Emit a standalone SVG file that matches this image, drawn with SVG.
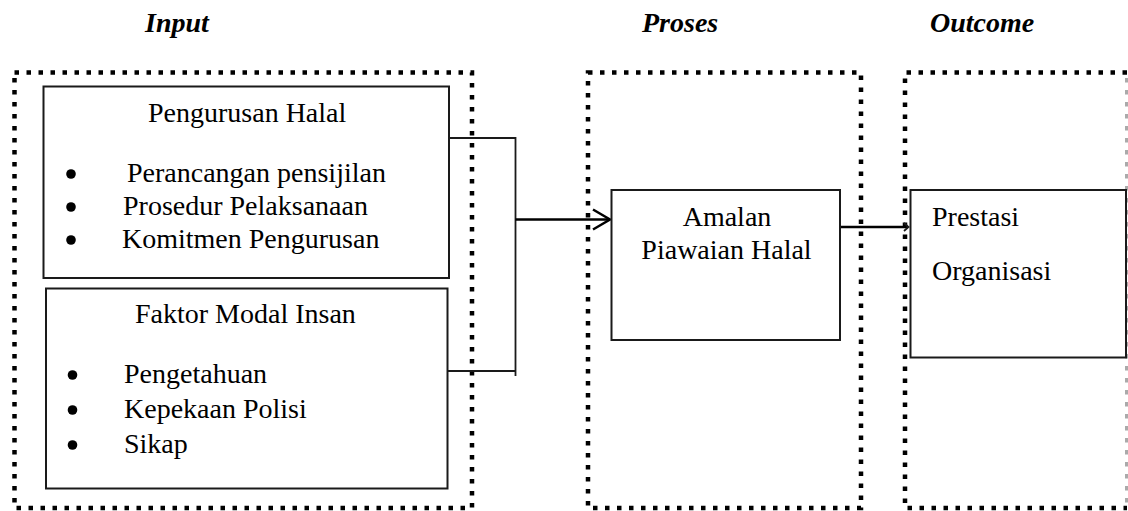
<svg xmlns="http://www.w3.org/2000/svg" width="1128" height="511" viewBox="0 0 1128 511">
<style>
.title{font-family:"Liberation Serif","Times New Roman",serif;font-weight:bold;font-style:italic;font-size:28px;fill:#000}
.t{font-family:"Liberation Serif","Times New Roman",serif;font-size:28px;fill:#000}
.dot{fill:none;stroke:#000;stroke-width:4.5;stroke-dasharray:4.5 7.5}
.dotfaint{fill:none;stroke:#aaa;stroke-width:3;stroke-dasharray:4.5 7.5}
.box{fill:#fff;stroke:#1a1a1a;stroke-width:2}
.conn{fill:none;stroke:#1a1a1a;stroke-width:1.8}
.arrow{fill:none;stroke:#000;stroke-width:2.5}
</style>
<rect width="1128" height="511" fill="#fff"/>
<g id="titles">
<text class="title" x="145" y="32">Input</text>
<text class="title" x="642" y="32">Proses</text>
<text class="title" x="930" y="32">Outcome</text>
</g>
<g id="group-input">
<rect class="dot" x="14.5" y="72.5" width="457.5" height="435.5"/>
</g>
<g id="group-proses">
<rect class="dot" x="588" y="72.5" width="273" height="435.5"/>
</g>
<g id="group-outcome">
<polyline class="dot" points="1127,72.5 905,72.5 905,508 1127,508"/>
<line class="dotfaint" x1="1126.5" y1="78" x2="1126.5" y2="508"/>
</g>
<g id="connectors">
<polyline class="conn" points="443,138 515.5,138 515.5,376"/>
<line class="conn" x1="448" y1="371" x2="515.5" y2="371"/>
<line class="arrow" x1="515.5" y1="219.5" x2="609" y2="219.5"/>
<polyline class="arrow" points="593,209.5 610,219.5 593,229.5"/>
<line class="arrow" x1="840" y1="227" x2="908" y2="227"/>
<polyline class="conn" points="904,223 908.5,227 904,231"/>
</g>
<g id="node-pengurusan">
<rect class="box" x="43.5" y="86.5" width="405.5" height="191.5"/>
<text class="t" x="148" y="122">Pengurusan Halal</text>
<circle cx="71" cy="174" r="4.8"/>
<text class="t" x="127" y="182">Perancangan pensijilan</text>
<circle cx="71" cy="207" r="4.8"/>
<text class="t" x="123" y="215">Prosedur Pelaksanaan</text>
<circle cx="71" cy="240" r="4.8"/>
<text class="t" x="122" y="248">Komitmen Pengurusan</text>
</g>
<g id="node-modal">
<rect class="box" x="46" y="288.5" width="401.5" height="200"/>
<text class="t" x="135" y="323">Faktor Modal Insan</text>
<circle cx="72.5" cy="375" r="4.8"/>
<text class="t" x="124" y="383">Pengetahuan</text>
<circle cx="72.5" cy="410" r="4.8"/>
<text class="t" x="124" y="418">Kepekaan Polisi</text>
<circle cx="72.5" cy="445" r="4.8"/>
<text class="t" x="124" y="453">Sikap</text>
</g>
<g id="node-amalan">
<rect class="box" x="611.5" y="190" width="228.5" height="150"/>
<text class="t" x="727" y="226" text-anchor="middle">Amalan</text>
<text class="t" x="726.5" y="259" text-anchor="middle">Piawaian Halal</text>
</g>
<g id="node-prestasi">
<rect class="box" x="910.5" y="190" width="215.5" height="167.5"/>
<text class="t" x="932" y="226">Prestasi</text>
<text class="t" x="932" y="280">Organisasi</text>
</g>
</svg>
